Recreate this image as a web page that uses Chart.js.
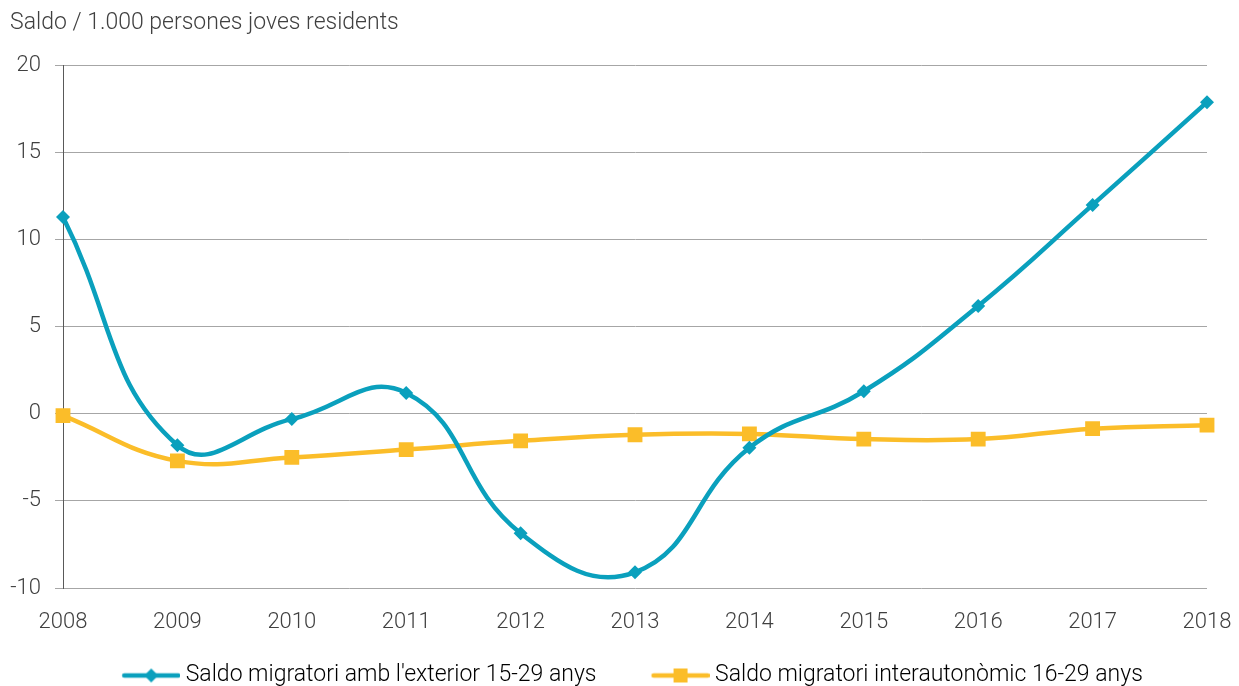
<!DOCTYPE html>
<html>
<head>
<meta charset="utf-8">
<script src="https://cdn.jsdelivr.net/npm/chart.js@4"></script>
<style>
  html, body { margin: 0; padding: 0; background: #fff; }
  #wrap { width: 1239px; height: 686px; }
</style>
</head>
<body>
<div id="wrap"><canvas id="myChart" width="1239" height="686"></canvas></div>
<script>
const years = ['2008', '2009', '2010', '2011', '2012', '2013', '2014', '2015', '2016', '2017', '2018'];
const exterior = [11.3, -1.8, -0.3, 1.2, -6.85, -9.1, -1.95, 1.3, 6.2, 12.0, 17.9];
const interautonomic = [-0.1, -2.7, -2.5, -2.05, -1.55, -1.2, -1.15, -1.45, -1.45, -0.85, -0.65];
const seriesNames = ["Saldo migratori amb l'exterior 15-29 anys", 'Saldo migratori interautonòmic 16-29 anys'];
const yTitle = 'Saldo / 1.000 persones joves residents';

const BLUE = '#0aa0bd';
const YELLOW = '#fbbd29';
const TEXT = '#404040';
const FONT = 'Roboto';

// icone de légende: trait + marqueur, collé à droite (la partie gauche vide sert d'espacement)
function legendIcon(color, shape) {
    const c = document.createElement('canvas');
    c.width = 112; c.height = 16;
    const g = c.getContext('2d');
    g.strokeStyle = color;
    g.lineWidth = 4.5;
    g.lineCap = 'round';
    g.beginPath(); g.moveTo(56, 8); g.lineTo(110, 8); g.stroke();
    g.fillStyle = color;
    g.beginPath();
    if (shape === 'diamond') {
        g.moveTo(83, 1); g.lineTo(90, 8); g.lineTo(83, 15); g.lineTo(76, 8);
    } else {
        g.rect(76, 1, 14, 14);
    }
    g.closePath(); g.fill();
    return c;
}

const icons = [legendIcon(BLUE, 'diamond'), legendIcon(YELLOW, 'square')];

// descend la légende un peu plus bas que ce que Chart.js prévoit
const legendDown = {
    id: 'legendDown',
    beforeLayout(chart) {
        const lg = chart.legend;
        if (lg && !lg._patched) {
            const fit = lg.fit;
            lg.fit = function () { fit.call(this); this.height -= 11; };
            lg._patched = true;
        }
    }
};

Chart.defaults.font.family = FONT;
Chart.defaults.font.weight = 300;
Chart.defaults.color = TEXT;

const ctx = document.getElementById('myChart').getContext('2d');
new Chart(ctx, {
    type: 'line',
    data: {
        labels: years,
        datasets: [{
            label: seriesNames[0],
            data: exterior,
            borderColor: BLUE,
            backgroundColor: BLUE,
            borderWidth: 4.5,
            pointStyle: 'rectRot',
            pointRadius: 7,
            pointBorderWidth: 0,
            tension: 0.45,
            fill: false
        }, {
            label: seriesNames[1],
            data: interautonomic,
            borderColor: YELLOW,
            backgroundColor: YELLOW,
            borderWidth: 4.5,
            pointStyle: 'rect',
            pointRadius: 10.5,
            pointBorderWidth: 0,
            tension: 0.42,
            fill: false
        }]
    },
    plugins: [legendDown],
    options: {
        responsive: false,
        animation: false,
        layout: { padding: { left: 10, right: 32, top: 0, bottom: 0 } },
        plugins: {
            tooltip: { enabled: false },
            title: {
                display: true,
                text: yTitle,
                align: 'start',
                font: { size: 23, weight: 300 },
                color: TEXT,
                padding: { top: 9, bottom: 29 }
            },
            legend: {
                position: 'bottom',
                labels: {
                    usePointStyle: true,
                    pointStyleWidth: 100,
                    padding: 7,
                    font: { size: 23, weight: 300 },
                    color: TEXT,
                    generateLabels: (chart) => chart.data.datasets.map((ds, i) => ({
                        text: ds.label,
                        pointStyle: icons[i],
                        fillStyle: ds.borderColor,
                        strokeStyle: ds.borderColor,
                        lineWidth: 0,
                        datasetIndex: i,
                        hidden: false
                    }))
                }
            }
        },
        scales: {
            x: {
                grid: { display: false },
                border: { display: false },
                ticks: { font: { size: 22, weight: 300 }, padding: 13, maxRotation: 0 },
                afterFit: (scale) => { scale.height = 69; scale.paddingRight = 1; }
            },
            y: {
                min: -10,
                max: 20,
                ticks: { stepSize: 5, font: { size: 22, weight: 300 }, padding: 14 },
                grid: { color: '#a6a6a6', lineWidth: 1, tickLength: 8 },
                border: { display: true, color: '#595959', width: 1 },
                afterFit: (scale) => { scale.width = 53; }
            }
        }
    }
});
</script>
</body>
</html>
